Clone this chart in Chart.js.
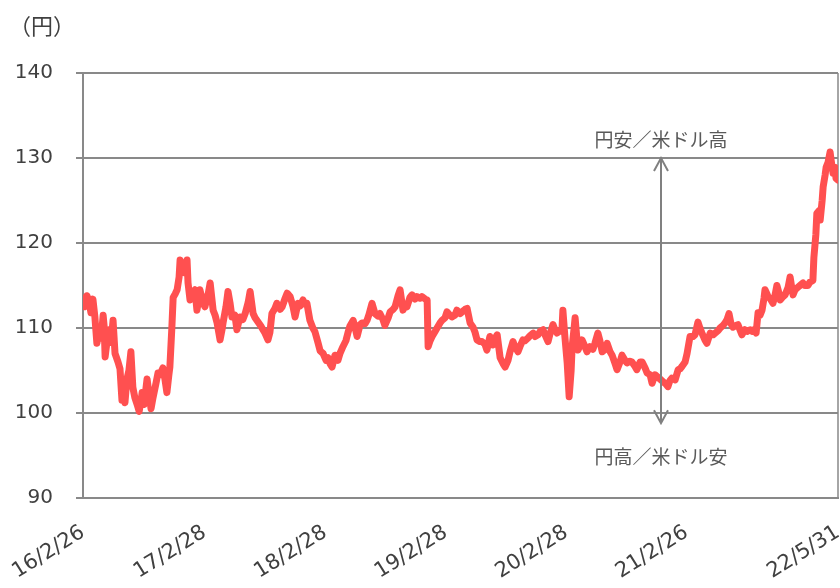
<!DOCTYPE html>
<html lang="ja">
<head>
<meta charset="utf-8">
<title>ドル円</title>
<script src="https://cdn.jsdelivr.net/npm/chart.js@4/dist/chart.umd.min.js"></script>
<style>
    html, body { margin: 0; padding: 0; background: #ffffff; }
    canvas { display: block; }
</style>
</head>
<body>
<canvas id="rateChart" width="840" height="588"></canvas>
<script>
// days since 2016/2/26
const days = [
    0, 6, 12, 18, 24, 30, 36, 42, 48, 55, 61, 64, 67, 73, 79, 85, 91, 97, 106, 112,
    118, 121, 127, 133, 139, 145, 151, 157, 164, 170, 176, 179, 185, 194, 200, 206, 212, 221, 227, 233,
    242, 248, 254, 260, 263, 269, 273, 279, 285, 291, 294, 300, 303, 309, 315, 318, 324, 330, 339, 345,
    351, 354, 363, 369, 379, 385, 394, 400, 406, 415, 421, 424, 433, 439, 445, 451, 460, 466, 475, 484,
    491, 500, 506, 515, 521, 530, 539, 545, 551, 560, 566, 572, 581, 587, 597, 603, 612, 618, 627, 636,
    642, 651, 657, 666, 672, 678, 687, 696, 702, 712, 718, 727, 736, 742, 748, 754, 763, 772, 778, 787,
    796, 802, 808, 818, 824, 830, 839, 845, 854, 860, 866, 875, 884, 893, 899, 908, 914, 924, 930, 939,
    945, 954, 960, 969, 975, 981, 990, 996, 1005, 1011, 1020, 1026, 1036, 1042, 1045, 1051, 1057, 1066, 1072, 1081,
    1087, 1096, 1102, 1111, 1117, 1126, 1132, 1142, 1151, 1157, 1163, 1172, 1181, 1187, 1193, 1202, 1208, 1217, 1223, 1232,
    1241, 1248, 1254, 1263, 1272, 1278, 1287, 1293, 1302, 1308, 1317, 1323, 1332, 1338, 1347, 1354, 1363, 1369, 1378, 1384,
    1393, 1399, 1408, 1414, 1423, 1429, 1435, 1444, 1450, 1453, 1459, 1466, 1472, 1478, 1481, 1487, 1490, 1496, 1499, 1505,
    1511, 1520, 1526, 1535, 1544, 1550, 1559, 1565, 1572, 1581, 1587, 1596, 1602, 1611, 1617, 1626, 1632, 1641, 1647, 1656,
    1662, 1671, 1677, 1687, 1693, 1702, 1708, 1717, 1723, 1732, 1738, 1747, 1756, 1765, 1771, 1777, 1783, 1793, 1802, 1808,
    1814, 1823, 1829, 1838, 1847, 1853, 1862, 1868, 1874, 1883, 1889, 1899, 1908, 1914, 1923, 1929, 1938, 1944, 1950, 1956,
    1962, 1968, 1977, 1983, 1989, 1995, 2004, 2011, 2020, 2026, 2032, 2038, 2044, 2050, 2056, 2062, 2065, 2071, 2074, 2080,
    2089, 2095, 2101, 2108, 2111, 2120, 2126, 2135, 2141, 2147, 2150, 2156, 2165, 2171, 2180, 2186, 2195, 2201, 2210, 2213,
    2219, 2222, 2229, 2232, 2238, 2241, 2247, 2250, 2256, 2262, 2265, 2271, 2277, 2280, 2286
];

// USD/JPY (円)
const rates = [
    113.5, 112.5, 113.8, 113.2, 111.8, 113.4, 111.3, 108.2, 109.5, 108.8, 111.5, 110.2, 106.6, 108.5, 109.8, 108.3, 110.9, 107.0, 106.0, 105.2,
    101.5, 102.8, 101.2, 104.0, 105.0, 107.2, 103.0, 101.8, 101.0, 100.2, 101.5, 102.4, 101.0, 104.0, 102.2, 100.5, 101.8, 103.5, 104.7, 104.5,
    105.3, 104.0, 102.4, 104.5, 105.4, 110.0, 113.6, 114.0, 114.5, 116.0, 118.0, 117.2, 117.6, 116.5, 118.0, 115.3, 113.3, 114.0, 114.5, 112.1,
    113.5, 114.5, 113.0, 112.5, 114.0, 115.3, 112.1, 111.5, 110.6, 108.6, 109.8, 110.6, 112.5, 114.3, 113.0, 111.3, 111.5, 109.8, 111.3, 111.0,
    111.7, 113.0, 114.3, 111.7, 111.2, 110.7, 110.2, 109.8, 109.4, 108.6, 109.5, 111.7, 112.3, 112.9, 112.2, 112.5, 113.5, 114.1, 113.7, 112.5,
    111.3, 112.9, 112.6, 113.3, 112.8, 112.9, 110.9, 110.0, 109.6, 108.2, 107.3, 107.0, 106.2, 106.5, 105.8, 105.4, 106.8, 106.2, 107.0, 107.8,
    108.5, 109.4, 110.2, 110.9, 110.0, 109.0, 110.4, 110.6, 110.5, 110.9, 111.6, 112.9, 111.7, 111.4, 111.7, 111.0, 110.3, 111.2, 111.9, 112.2,
    112.5, 113.8, 114.5, 112.1, 112.8, 112.5, 113.6, 113.9, 113.4, 113.7, 113.5, 113.7, 113.4, 113.3, 107.8, 108.5, 109.0, 109.6, 110.0, 110.6,
    110.9, 111.2, 111.9, 111.5, 111.3, 111.5, 112.1, 111.7, 112.0, 112.2, 112.3, 110.6, 110.1, 109.5, 108.6, 108.4, 108.4, 108.1, 107.4, 109.0,
    108.0, 108.8, 109.2, 106.5, 105.8, 105.4, 106.2, 107.2, 108.4, 107.8, 107.2, 107.8, 108.6, 108.5, 108.8, 109.1, 109.4, 109.0, 109.2, 109.6,
    109.8, 109.2, 108.4, 109.3, 110.4, 109.8, 109.4, 109.7, 109.6, 112.1, 109.0, 105.9, 101.9, 105.0, 107.8, 110.0, 111.2, 108.5, 107.4, 108.0,
    108.6, 107.8, 107.2, 107.8, 107.5, 108.2, 109.4, 108.5, 107.2, 107.5, 108.2, 107.2, 106.8, 105.8, 105.1, 106.0, 106.8, 106.2, 105.9, 106.1,
    106.0, 105.5, 105.1, 106.0, 106.0, 105.3, 104.7, 104.5, 103.5, 104.5, 104.3, 104.0, 103.7, 103.4, 103.1, 103.8, 104.1, 103.9, 105.1, 105.2,
    105.5, 106.0, 107.0, 109.0, 109.0, 109.2, 110.7, 110.0, 109.4, 108.6, 108.2, 109.4, 109.2, 109.4, 109.7, 110.0, 110.3, 110.6, 111.0, 111.7,
    110.5, 110.1, 110.3, 110.4, 109.8, 109.2, 109.8, 109.6, 109.8, 109.6, 109.8, 109.4, 111.8, 111.5, 112.1, 113.5, 114.5, 114.0, 113.7, 113.5,
    112.9, 113.8, 115.0, 114.0, 113.3, 113.7, 113.9, 114.8, 116.0, 114.5, 113.9, 114.5, 114.8, 115.0, 115.3, 115.0, 115.0, 115.4, 115.6, 118.3,
    121.0, 123.5, 123.8, 122.7, 125.0, 126.6, 128.0, 128.9, 129.5, 130.7, 129.8, 128.2, 128.9, 127.6, 127.4
];

const tickDays = [0, 368, 733, 1098, 1463, 1827, 2286];
const tickLabels = ['16/2/26', '17/2/28', '18/2/28', '19/2/28', '20/2/28', '21/2/26', '22/5/31'];

const unitLabel = '（円）';
const upperNote = '円安／米ドル高';
const lowerNote = '円高／米ドル安';
const arrowDay = 1750;
const arrowTop = 130;
const arrowBottom = 98.8;
const upperNoteValue = 132.1;
const lowerNoteValue = 94.8;

const textColor = '#404040';
const gridColor = '#898989';

const notesPlugin = {
    id: 'notes',
    afterDatasetsDraw(chart) {
        const {ctx, scales: {x, y}} = chart;
        const ax = Math.round(x.getPixelForValue(arrowDay));
        const top = y.getPixelForValue(arrowTop);
        const bot = y.getPixelForValue(arrowBottom);

        ctx.save();
        ctx.strokeStyle = '#808080';
        ctx.lineWidth = 2;
        ctx.beginPath();
        ctx.moveTo(ax, top);
        ctx.lineTo(ax, bot);
        ctx.moveTo(ax - 7, top + 13);
        ctx.lineTo(ax, top);
        ctx.lineTo(ax + 7, top + 13);
        ctx.moveTo(ax - 7, bot - 13);
        ctx.lineTo(ax, bot);
        ctx.lineTo(ax + 7, bot - 13);
        ctx.stroke();

        ctx.fillStyle = '#595959';
        ctx.font = '19px "Noto Sans CJK JP"';
        ctx.textAlign = 'center';
        ctx.textBaseline = 'middle';
        ctx.fillText(upperNote, ax, y.getPixelForValue(upperNoteValue));
        ctx.fillText(lowerNote, ax, y.getPixelForValue(lowerNoteValue));

        ctx.fillStyle = textColor;
        ctx.font = '22px "Noto Sans CJK JP"';
        ctx.textAlign = 'left';
        ctx.fillText(unitLabel, 9, 26);
        ctx.restore();
    }
};

function renderRateChart() {
    const canvas = document.getElementById('rateChart');
    if (!canvas) {
        return;
    }
    const points = days.map((d, i) => ({x: d, y: rates[i]}));

    new Chart(canvas, {
        type: 'line',
        data: {
            datasets: [{
                data: points,
                borderColor: '#ff5050',
                backgroundColor: '#ff5050',
                borderWidth: 7,
                borderJoinStyle: 'round',
                borderCapStyle: 'round',
                pointRadius: 0,
                tension: 0,
                fill: false
            }]
        },
        options: {
            responsive: false,
            animation: false,
            devicePixelRatio: 1,
            layout: {
                padding: {left: 0, right: 2, top: 73, bottom: 0}
            },
            plugins: {
                legend: {display: false},
                tooltip: {enabled: false}
            },
            scales: {
                x: {
                    type: 'linear',
                    min: 0,
                    max: tickDays[tickDays.length - 1],
                    afterBuildTicks: scale => {
                        scale.ticks = tickDays.map(v => ({value: v}));
                    },
                    afterFit: scale => {
                        scale.height = 90;
                        scale.paddingLeft = 0;
                        scale.paddingRight = 0;
                    },
                    grid: {
                        drawTicks: false,
                        lineWidth: 2,
                        color: ctx => ctx.index === tickDays.length - 1 ? '#a6a6a6' : 'rgba(0,0,0,0)'
                    },
                    border: {
                        display: true,
                        color: gridColor,
                        width: 2
                    },
                    ticks: {
                        autoSkip: false,
                        minRotation: 32,
                        maxRotation: 32,
                        padding: 22,
                        color: textColor,
                        font: {family: '"DejaVu Sans"', size: 21},
                        callback: (value, index) => tickLabels[index]
                    }
                },
                y: {
                    min: 90,
                    max: 140,
                    afterFit: scale => {
                        scale.width = 83;
                    },
                    grid: {
                        color: gridColor,
                        lineWidth: 2,
                        tickLength: 7
                    },
                    border: {
                        color: gridColor,
                        width: 2
                    },
                    ticks: {
                        stepSize: 10,
                        padding: 23,
                        color: textColor,
                        font: {family: '"DejaVu Sans"', size: 20}
                    }
                }
            }
        },
        plugins: [notesPlugin]
    });
}

document.addEventListener("DOMContentLoaded", () => {
    renderRateChart();
});
</script>
</body>
</html>
